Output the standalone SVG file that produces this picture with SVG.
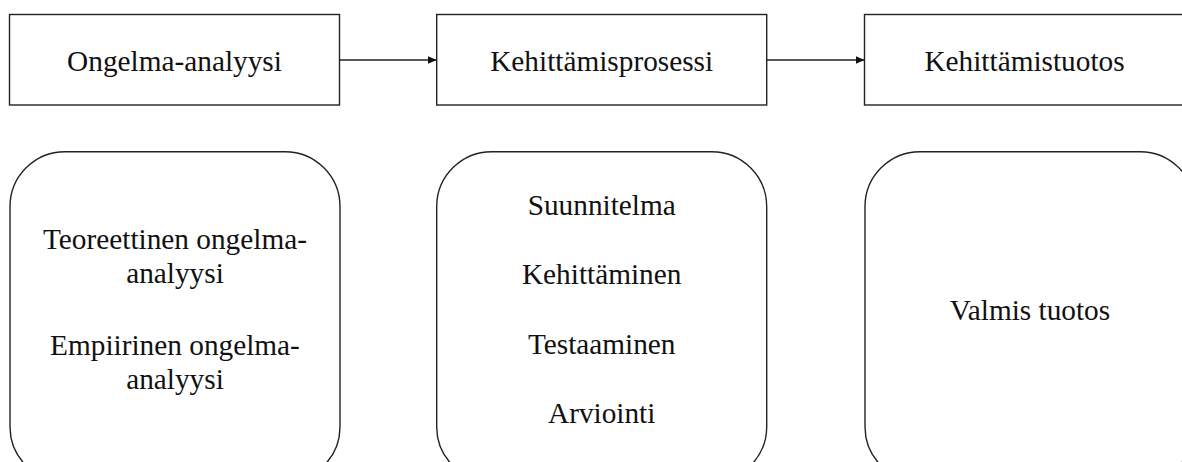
<svg xmlns="http://www.w3.org/2000/svg" width="1182" height="462" viewBox="0 0 1182 462">
<defs>
<style>
.box{fill:#fff;stroke:#222;stroke-width:1.4}
.t{font-family:"Liberation Serif","Times New Roman",serif;font-size:29.3px;fill:#111;text-anchor:middle}
.c{stroke:#222;stroke-width:1.4;fill:none}
</style>
<marker id="ah" markerWidth="10" markerHeight="8" refX="9" refY="4" orient="auto" markerUnits="userSpaceOnUse">
<path d="M0,0 L9,4 L0,8 Z" fill="#111"/>
</marker>
</defs>
<rect width="1182" height="462" fill="#fff"/>
<g id="n1">
<rect class="box" x="9.5" y="14.5" width="330" height="90.5"/>
<text class="t" x="174.5" y="71">Ongelma-analyysi</text>
</g>
<g id="n2">
<rect class="box" x="436.7" y="14.5" width="330" height="90.5"/>
<text class="t" x="601.7" y="71">Kehittämisprosessi</text>
</g>
<g id="n3">
<rect class="box" x="864.5" y="14.5" width="330" height="90.5"/>
<text class="t" x="1024.5" y="71">Kehittämistuotos</text>
</g>
<g id="n4">
<rect class="box" x="10" y="151.7" width="330" height="330" rx="55" ry="55"/>
<text class="t" x="175" y="249">Teoreettinen ongelma-</text>
<text class="t" x="175" y="283">analyysi</text>
<text class="t" x="175" y="355">Empiirinen ongelma-</text>
<text class="t" x="175" y="389">analyysi</text>
</g>
<g id="n5">
<rect class="box" x="436.7" y="151.7" width="330" height="330" rx="55" ry="55"/>
<text class="t" x="601.7" y="215">Suunnitelma</text>
<text class="t" x="601.7" y="284">Kehittäminen</text>
<text class="t" x="601.7" y="354">Testaaminen</text>
<text class="t" x="601.7" y="423">Arviointi</text>
</g>
<g id="n6">
<rect class="box" x="865" y="151.7" width="330" height="330" rx="55" ry="55"/>
<text class="t" x="1030" y="320">Valmis tuotos</text>
</g>
<g id="connectors">
<line class="c" x1="339.5" y1="60" x2="436.7" y2="60" marker-end="url(#ah)"/>
<line class="c" x1="766.7" y1="60" x2="864.5" y2="60" marker-end="url(#ah)"/>
</g>
</svg>
